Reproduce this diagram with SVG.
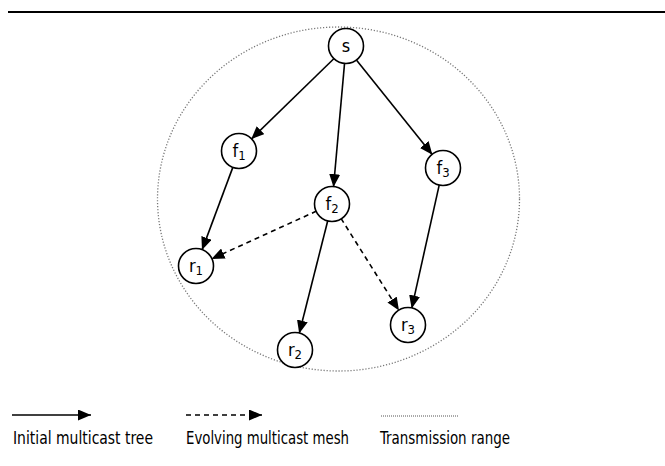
<svg xmlns="http://www.w3.org/2000/svg" width="665" height="466" viewBox="0 0 665 466">
  <style>
    .node circle { fill: #ffffff; stroke: #000000; stroke-width: 1.6; }
    .node text, .legend text { font-family: "DejaVu Sans Condensed", "DejaVu Sans", "Liberation Sans", sans-serif; fill: #000000; }
    .node text { font-size: 18px; text-anchor: middle; }
    .node tspan.sub { font-size: 13px; }
    .edge { stroke: #000000; stroke-width: 1.6; fill: none; marker-end: url(#arrow); }
    .dashed { stroke-dasharray: 5 4; }
    .range { fill: none; stroke: #777777; stroke-width: 1.3; stroke-dasharray: 1.2 1.8; }
    .legend text { font-size: 17px; }
    .legend .range { stroke: #555555; stroke-width: 1; stroke-dasharray: 1 1; }
  </style>
  <defs>
    <marker id="arrow" markerUnits="userSpaceOnUse" markerWidth="13" markerHeight="11" refX="13" refY="5.5" orient="auto">
      <path d="M0,0 L13,5.5 L0,11 z" fill="#000000"/>
    </marker>
  </defs>

  <rect width="665" height="466" fill="#ffffff"/>

  <!-- header rule -->
  <line x1="8" y1="12" x2="665" y2="12" stroke="#000000" stroke-width="2"/>

  <!-- transmission range -->
  <ellipse class="range" cx="338.5" cy="199" rx="181" ry="172"/>

  <g id="connectors">
    <line class="edge" x1="333.8" y1="58.8" x2="251.2" y2="139.2"/>
    <line class="edge" x1="344.5" y1="63.9" x2="333.5" y2="187.1"/>
    <line class="edge" x1="356.6" y1="60.3" x2="432.4" y2="154.7"/>
    <line class="edge" x1="233.0" y1="166.9" x2="202.0" y2="250.1"/>
    <line class="edge dashed" x1="316.5" y1="211.1" x2="211.5" y2="258.9"/>
    <line class="edge" x1="327.8" y1="220.5" x2="299.2" y2="333.5"/>
    <line class="edge dashed" x1="341.0" y1="218.4" x2="399.0" y2="310.6"/>
    <line class="edge" x1="439.3" y1="184.6" x2="411.7" y2="308.4"/>
  </g>

  <g id="node-s" class="node">
    <circle cx="346" cy="46" r="17.5"/>
    <text x="346" y="52">s</text>
  </g>
  <g id="node-f1" class="node">
    <circle cx="239" cy="151" r="17.5"/>
    <text x="239" y="157">f<tspan class="sub" dy="3">1</tspan></text>
  </g>
  <g id="node-f2" class="node">
    <circle cx="332" cy="204" r="17.5"/>
    <text x="332" y="210">f<tspan class="sub" dy="3">2</tspan></text>
  </g>
  <g id="node-f3" class="node">
    <circle cx="443" cy="168" r="17.5"/>
    <text x="443" y="174">f<tspan class="sub" dy="3">3</tspan></text>
  </g>
  <g id="node-r1" class="node">
    <circle cx="196" cy="266" r="17.5"/>
    <text x="196" y="272">r<tspan class="sub" dy="3">1</tspan></text>
  </g>
  <g id="node-r2" class="node">
    <circle cx="295" cy="350" r="17.5"/>
    <text x="295" y="356">r<tspan class="sub" dy="3">2</tspan></text>
  </g>
  <g id="node-r3" class="node">
    <circle cx="408" cy="325" r="17.5"/>
    <text x="408" y="331">r<tspan class="sub" dy="3">3</tspan></text>
  </g>

  <g id="legend" class="legend">
    <line class="edge" x1="12" y1="415" x2="91" y2="415"/>
    <text x="13" y="444" textLength="140" lengthAdjust="spacingAndGlyphs">Initial multicast tree</text>
    <line class="edge dashed" x1="186" y1="415" x2="262" y2="415"/>
    <text x="186" y="444" textLength="163" lengthAdjust="spacingAndGlyphs">Evolving multicast mesh</text>
    <line class="range" x1="381" y1="416" x2="459" y2="416"/>
    <text x="380" y="444" textLength="130" lengthAdjust="spacingAndGlyphs">Transmission range</text>
  </g>
</svg>
